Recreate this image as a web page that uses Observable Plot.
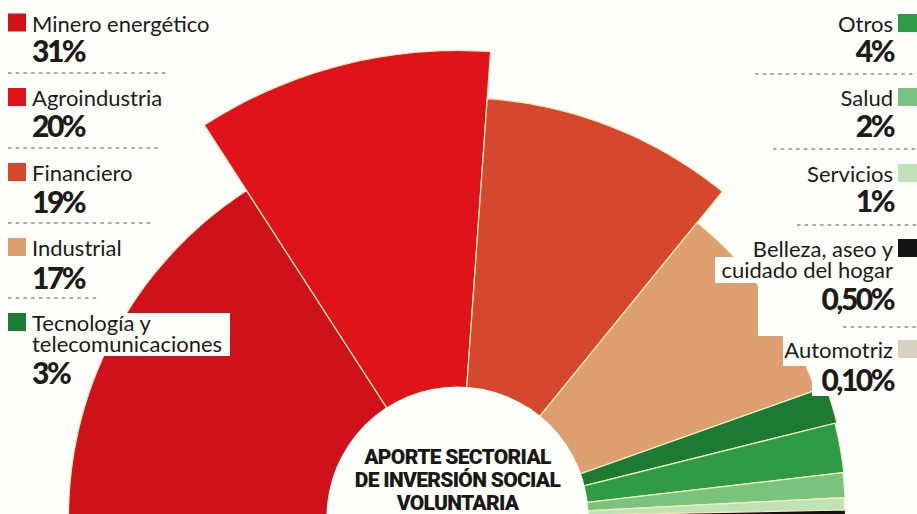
<!DOCTYPE html>
<html><head><meta charset="utf-8">
<script src="https://cdn.jsdelivr.net/npm/d3@7"></script>
<script src="https://cdn.jsdelivr.net/npm/@observablehq/plot@0.6"></script>
<style>
html,body{margin:0;padding:0;background:#fefefb;overflow:hidden;}
#wrap{position:relative;width:917px;height:514px;overflow:hidden;}
#wrap svg{position:absolute;left:0;top:0;}
</style></head><body><div id="wrap"></div>
<script>
// ---- Data ----
const sectores = ["Minero energético","Agroindustria","Financiero","Industrial","Tecnología y\ntelecomunicaciones","Otros","Salud","Servicios","Belleza, aseo y\ncuidado del hogar","Automotriz"];
const porcentajes = [31, 20, 19, 17, 3, 4, 2, 1, 0.5, 0.1];
const etiquetas = ["31%","20%","19%","17%","3%","4%","2%","1%","0,50%","0,10%"];
// outer reach of each sector (chart units, as measured in the picture)
const alcance = [389, 467, 420, 380, 391, 389, 388, 387, 388, 388];
const colores = ["#cf1119","#e0131b","#d6482e","#dd9f6f","#1c7a34","#2f9b46","#78c47e","#bfe3b6","#141414","#d9d1bf"];
const titulo = ["APORTE SECTORIAL","DE INVERSIÓN SOCIAL","VOLUNTARIA"];

// ---- Geometry of the half rose (from the data) ----
const total = d3.sum(porcentajes);
const puntos = [];
let acc = 0;
sectores.forEach((s, i) => {
  const a0 = Math.PI * (1 - acc / total);
  acc += porcentajes[i];
  const a1 = Math.PI * (1 - acc / total);
  const r = alcance[i];
  const n = Math.max(2, Math.ceil((a0 - a1) * 180 / Math.PI));
  puntos.push({sector: s, x: 0, y: 0});
  for (let k = 0; k <= n; k++) {
    const a = a0 + (a1 - a0) * k / n;
    puntos.push({sector: s, x: r * Math.cos(a), y: r * Math.sin(a)});
  }
  puntos.push({sector: s, x: 0, y: 0});
});

const bg = "#fefefb";
const chart = Plot.plot({
  width: 917, height: 514, margin: 0,
  style: {background: "transparent"},
  x: {domain: [-457, 460], axis: null},
  y: {domain: [3, 517], axis: null},
  color: {domain: sectores, range: colores},
  marks: [
    Plot.line(puntos, {x: "x", y: "y", z: "sector", fill: "sector", stroke: "#f6eebd", strokeWidth: 1.2, strokeLinejoin: "round"}),
    Plot.dot([{x: 0, y: 0}], {x: "x", y: "y", r: 131, fill: bg, stroke: null}),
    Plot.text([{x: 0, y: 0, t: titulo.join("\n")}], {x: "x", y: "y", text: "t", dy: -38, lineAnchor: "middle", lineHeight: 1.1, fontSize: 21, fontWeight: 900, fontFamily: "Roboto, Lato, sans-serif", fill: "#1b1918"})
  ]
});
chart.querySelectorAll("text").forEach(t => t.style.letterSpacing = "-0.7px");
document.getElementById("wrap").appendChild(chart);

// ---- Legend / labels overlay ----
const ov = d3.select("#wrap").append("svg").attr("width", 917).attr("height", 514)
  .style("font-family", "Lato, 'Open Sans', sans-serif");
const ink = "#1d1a18";

// white boxes behind some labels (as in the original)
const cajas = [[28,313,202,43],[715,257,180,26],[758,283,137,53],[783,336,112,30],[812,366,83,30]];
ov.selectAll("rect.caja").data(cajas).join("rect").attr("class","caja")
  .attr("x", d => d[0]).attr("y", d => d[1]).attr("width", d => d[2]).attr("height", d => d[3]).attr("fill", bg);

const sep = [[73,8,168],[148,8,162],[223,8,150],[298,8,97],[74,755,917],[149,773,917],[225,797,917],[327,843,917]];
ov.selectAll("line.sep").data(sep).join("line").attr("class","sep")
  .attr("x1", d => d[1]).attr("x2", d => d[2]).attr("y1", d => d[0]).attr("y2", d => d[0])
  .attr("stroke", "#8f8f8f").attr("stroke-width", 1.4).attr("stroke-dasharray", "3.5 4.2");

const izq = [[0,31.5,62],[1,106,137],[2,181,213],[3,256,289],[4,331,384]];
const der = [[5,32,62],[6,106,137],[7,182,212],[8,257,310],[9,358,391]];
function bloque([i, base, pct], lado) {
  const lines = sectores[i].split("\n");
  const left = lado === "izq";
  const tx = left ? 32 : 893;
  ov.append("rect").attr("x", left ? 8 : 898).attr("y", base - 18).attr("width", left ? 18 : 19).attr("height", 18).attr("fill", colores[i]);
  const t = ov.append("text").attr("text-anchor", left ? "start" : "end").attr("fill", ink);
  lines.forEach((l, k) => {
    t.append("tspan").attr("x", tx).attr("y", base + k * 21)
      .attr("font-size", 22).attr("font-weight", 400).text(l);
  });
  t.append("tspan").attr("x", tx).attr("y", pct)
    .attr("font-size", 30).attr("font-weight", 900).attr("letter-spacing", "-2.5px").text(etiquetas[i]);
}
izq.forEach(b => bloque(b, "izq"));
der.forEach(b => bloque(b, "der"));
</script></body></html>
